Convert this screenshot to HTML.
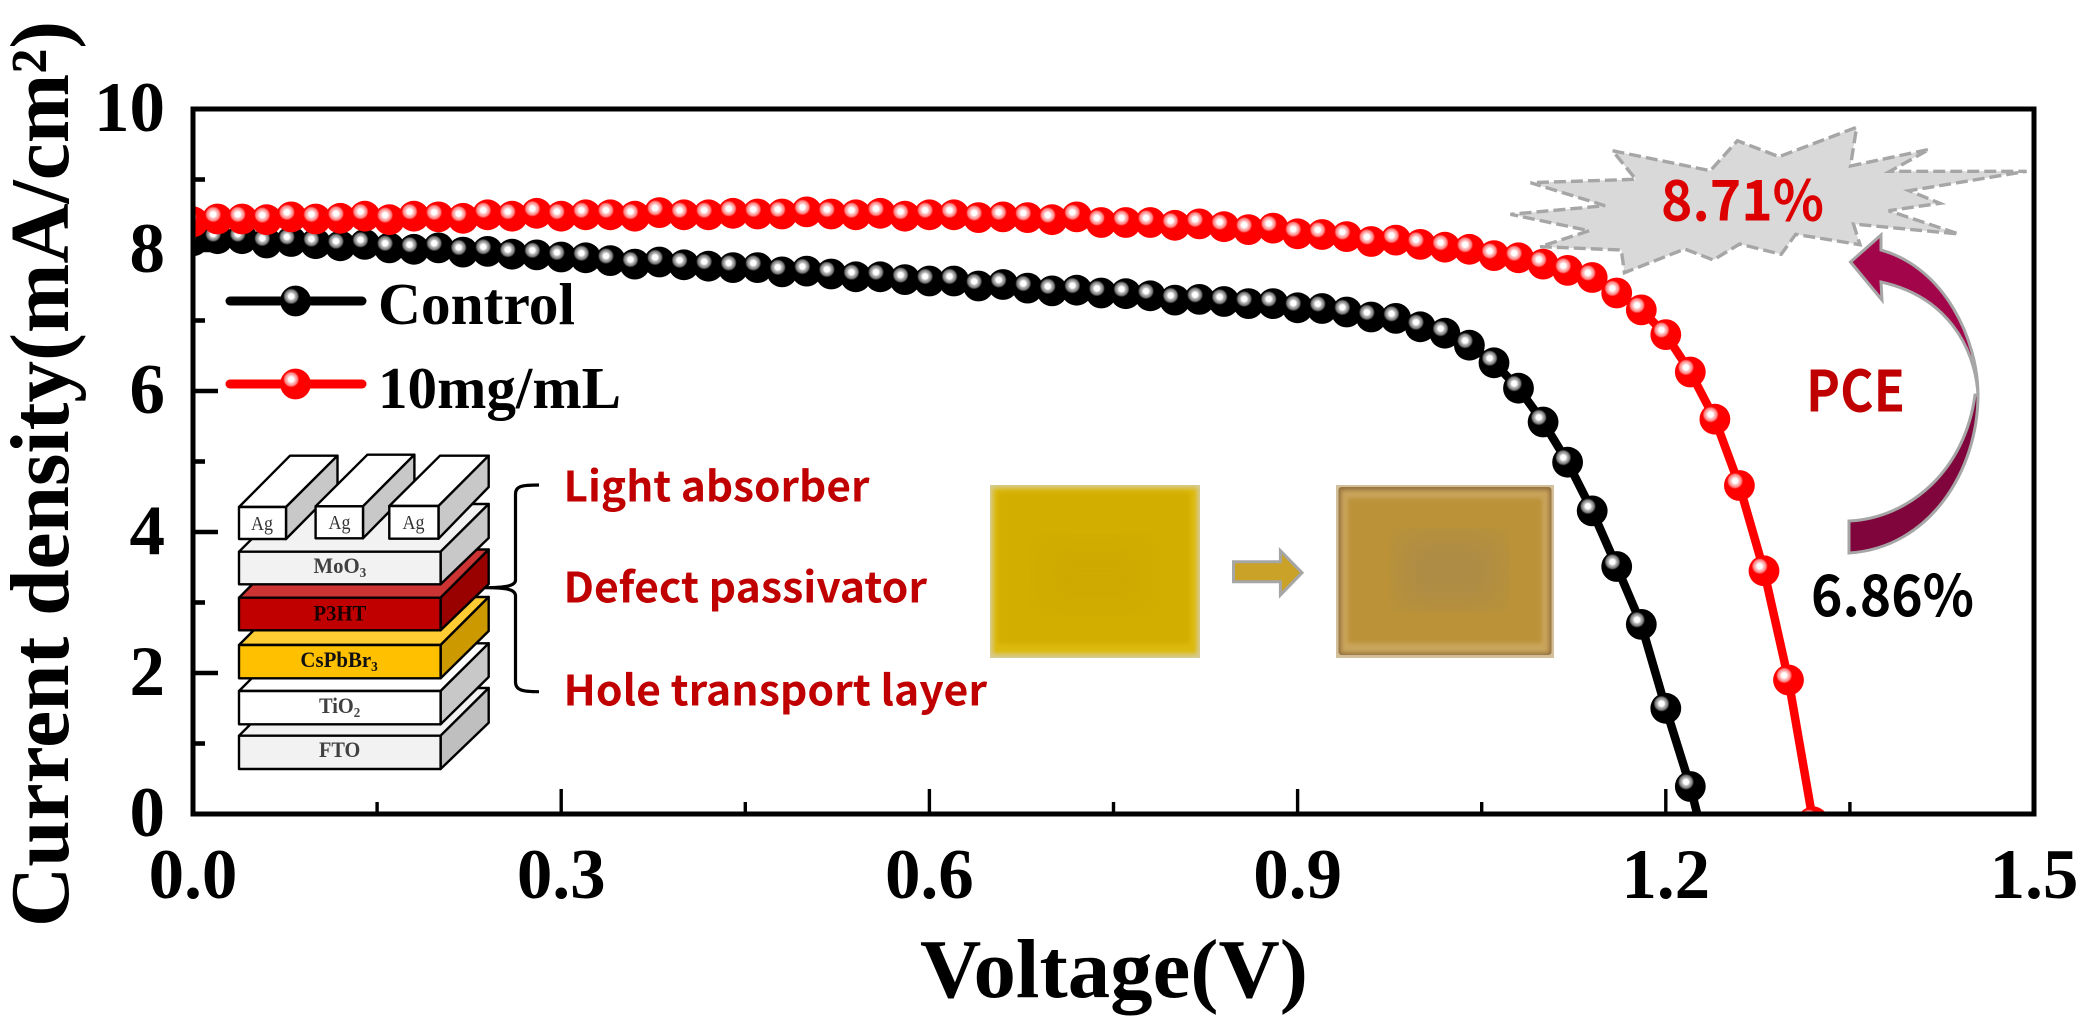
<!DOCTYPE html>
<html lang="en">
<head>
<meta charset="utf-8">
<title>J-V curves</title>
<style>
html,body{margin:0;padding:0;background:#fff;width:2087px;height:1031px;overflow:hidden}
svg{display:block}
.serif{font-family:"Liberation Serif","Times New Roman",serif;font-weight:700}
.cjk{font-family:"Noto Sans CJK SC","Liberation Sans",sans-serif;font-weight:700}
</style>
</head>
<body>
<svg id="chart" xmlns="http://www.w3.org/2000/svg" width="2087" height="1031" viewBox="0 0 2087 1031">
<defs>
<radialGradient id="ballBlack" cx="0.36" cy="0.35" r="0.26">
<stop offset="0" stop-color="#fff"/><stop offset="0.32" stop-color="#fff"/><stop offset="0.5" stop-color="#bbb"/><stop offset="0.8" stop-color="#777"/><stop offset="1" stop-color="#000"/>
</radialGradient>
<radialGradient id="ballRed" cx="0.36" cy="0.35" r="0.26">
<stop offset="0" stop-color="#fff"/><stop offset="0.32" stop-color="#fff"/><stop offset="0.5" stop-color="#ffc4c4"/><stop offset="0.8" stop-color="#ff8080"/><stop offset="1" stop-color="#f00"/>
</radialGradient>
<clipPath id="plotClip"><rect x="193" y="109" width="1841" height="705"/></clipPath>
<filter id="soft" x="-5%" y="-5%" width="110%" height="110%"><feGaussianBlur stdDeviation="2.2"/></filter>
<filter id="softer" x="-10%" y="-10%" width="120%" height="120%"><feGaussianBlur stdDeviation="14"/></filter>
<clipPath id="beforeClip"><rect x="990" y="485" width="210" height="173"/></clipPath>
<clipPath id="afterClip"><rect x="1336" y="485" width="218" height="173"/></clipPath>
</defs>

<!-- Device stack inset -->
<g stroke="#000" stroke-width="2.4" stroke-linejoin="round">
<g>
<polygon points="239,735.7 287,688 488.7,688 440.6,735.7" fill="#f2f2f2"/><polygon points="440.6,735.7 488.7,688 488.7,722.7 440.6,769" fill="#bfbfbf"/><rect x="239" y="735.7" width="201.6" height="33.3" fill="#f2f2f2"/>
</g>
<g>
<polygon points="239,691 287,643.3 488.7,643.3 440.6,691" fill="#fff"/><polygon points="440.6,691 488.7,643.3 488.7,677 440.6,724.3" fill="#c8c8c8"/><rect x="239" y="691" width="201.6" height="33.3" fill="#fff"/>
</g>
<g>
<polygon points="239,645 287,597 488.7,597 440.6,645" fill="#ffcc33"/><polygon points="440.6,645 488.7,597 488.7,631 440.6,678.3" fill="#cc9900"/><rect x="239" y="645" width="201.6" height="33.3" fill="#ffc000"/>
</g>
<g>
<polygon points="239,597.7 287,549.5 488.7,549.5 440.6,597.7" fill="#cc3333"/><polygon points="440.6,597.7 488.7,549.5 488.7,584 440.6,630.3" fill="#990000"/><rect x="239" y="597.7" width="201.6" height="32.6" fill="#c00000"/>
</g>
<g>
<polygon points="239,551.7 287,504 488.7,504 440.6,551.7" fill="#f2f2f2"/><polygon points="440.6,551.7 488.7,504 488.7,538 440.6,584.3" fill="#c8c8c8"/><rect x="239" y="551.7" width="201.6" height="32.6" fill="#f2f2f2"/>
</g>
<g>
<polygon points="239,507 290,455.7 337.5,455.7 286,507" fill="#fff"/><polygon points="286,507 337.5,455.7 337.5,487 286,539" fill="#c8c8c8"/><rect x="239" y="507" width="47" height="32" fill="#fff"/>
</g>
<g>
<polygon points="315.6,506.3 367.4,454.7 414.4,454.7 363,506.3" fill="#fff"/><polygon points="363,506.3 414.4,454.7 414.4,486 363,538.3" fill="#c8c8c8"/><rect x="315.6" y="506.3" width="47.4" height="32" fill="#fff"/>
</g>
<g>
<polygon points="389.3,506 440,455.7 488.7,455.7 438.5,506" fill="#fff"/><polygon points="438.5,506 488.7,455.7 488.7,487 438.5,538.7" fill="#c8c8c8"/><rect x="389.3" y="506" width="49.2" height="32.7" fill="#fff"/>
</g>
</g>
<g class="serif" font-size="22">
<text x="251" y="530" font-size="20" font-weight="400" fill="#333" textLength="22" lengthAdjust="spacingAndGlyphs">Ag</text>
<text x="328.5" y="529" font-size="20" font-weight="400" fill="#333" textLength="22" lengthAdjust="spacingAndGlyphs">Ag</text>
<text x="402.5" y="529" font-size="20" font-weight="400" fill="#333" textLength="22" lengthAdjust="spacingAndGlyphs">Ag</text>
<text x="313.5" y="573" fill="#404040" textLength="52.8" lengthAdjust="spacingAndGlyphs">MoO<tspan font-size="14" dy="4">3</tspan></text>
<text x="313.5" y="620.7" fill="#1a0000" textLength="52.8" lengthAdjust="spacingAndGlyphs">P3HT</text>
<text x="300.4" y="667" fill="#111" textLength="77.4" lengthAdjust="spacingAndGlyphs">CsPbBr<tspan font-size="14" dy="4">3</tspan></text>
<text x="319" y="713" fill="#404040" textLength="41.3" lengthAdjust="spacingAndGlyphs">TiO<tspan font-size="14" dy="4">2</tspan></text>
<text x="319" y="757" fill="#404040" textLength="41.3" lengthAdjust="spacingAndGlyphs">FTO</text>
</g>
<path d="M539,485 C522,485 515.5,486 515.5,494 L515.5,580 C515.5,586 505,587.7 485,587.7 C505,587.7 515.5,589 515.5,596 L515.5,682 C515.5,690 522,691.7 539,691.7" fill="none" stroke="#000" stroke-width="3.2"/>
<g class="cjk" fill="#c00000" font-size="42">
<text x="563.5" y="501.7" textLength="306" lengthAdjust="spacingAndGlyphs">Light absorber</text>
<text x="563.5" y="602.7" textLength="363.5" lengthAdjust="spacingAndGlyphs">Defect passivator</text>
<text x="563.5" y="705.7" textLength="423.5" lengthAdjust="spacingAndGlyphs">Hole transport layer</text>
</g>

<!-- Film photos -->
<g clip-path="url(#beforeClip)">
<rect x="990" y="485" width="210" height="173" fill="#d6cb96"/>
<rect x="993" y="488" width="204" height="166" fill="#dcb90c" filter="url(#soft)"/>
<rect x="998" y="492" width="192" height="152" fill="#d2ae02" filter="url(#soft)"/>
<rect x="1040" y="540" width="110" height="70" fill="#ceaa04" filter="url(#softer)"/>
</g>
<polygon points="1233.5,561.7 1280.4,561.7 1280.4,550.7 1302,572.7 1280.4,595 1280.4,581.7 1233.5,581.7" fill="#c9a227" stroke="#a6a6a6" stroke-width="3"/>
<g clip-path="url(#afterClip)">
<rect x="1336" y="485" width="218" height="173" fill="#d2c09c"/>
<rect x="1338.5" y="487" width="213" height="168" rx="3" fill="#94703e"/>
<rect x="1341" y="490" width="208" height="163" fill="#c9a45c" filter="url(#soft)"/>
<rect x="1348" y="498" width="194" height="145" fill="#bb9239" filter="url(#soft)"/>
<rect x="1400" y="535" width="100" height="70" fill="#ad8c45" filter="url(#softer)"/>
</g>

<!-- Starburst and PCE arrow -->
<polygon points="1612.5,150.7 1710.3,170.7 1737.4,140.7 1779,156.7 1856.6,127.3 1850.5,166 1929.4,149.3 1890,171.3 2026.6,171.3 1909.2,190.7 1939.9,203.3 1888.6,210.7 1958.7,234 1853.5,224 1860,244.7 1795.7,234.3 1781.2,254.3 1739.6,244 1713.3,260 1684.8,249 1624.4,272.7 1621.3,250 1540.2,246.7 1589.3,230.7 1510.4,214.3 1605,205.7 1530.6,182.7 1635.8,179.3" fill="#d9d9d9" stroke="#a6a6a6" stroke-width="3.4" stroke-dasharray="12 5"/>
<text class="cjk" x="1661" y="220.7" font-size="56" fill="#dc0000" textLength="163" lengthAdjust="spacingAndGlyphs">8.71%</text>
<path d="M1978,395 C1978,470 1930,548 1849,553 L1849,521 C1910,518 1965,470 1975,395 Z" fill="#80053c" stroke="#a6a6a6" stroke-width="3"/>
<path d="M1850.5,262 L1881,235 L1881,250 C1945,268 1978,340 1978,395 C1975,345 1945,296 1881,282 L1882,300 Z" fill="#a2054a" stroke="#a6a6a6" stroke-width="3"/>
<text class="cjk" x="1806" y="411.7" font-size="57" fill="#c00000" textLength="99" lengthAdjust="spacingAndGlyphs">PCE</text>
<text class="cjk" x="1811" y="616" font-size="57" fill="#000" textLength="163" lengthAdjust="spacingAndGlyphs">6.86%</text>

<g id="series" clip-path="url(#plotClip)"></g>
<g id="axes"></g>

<text class="serif" x="920" y="997" font-size="84" fill="#000" textLength="388" lengthAdjust="spacingAndGlyphs">Voltage(V)</text>
<text class="serif" transform="translate(68,927) rotate(-90)" font-size="84" fill="#000" textLength="906" lengthAdjust="spacingAndGlyphs">Current density(mA/cm²)</text>

<g id="legend"></g>
</svg>

<script>
const voltage = [0.00,0.02,0.04,0.06,0.08,0.10,0.12,0.14,0.16,0.18,0.20,0.22,0.24,0.26,0.28,0.30,0.32,0.34,0.36,0.38,0.40,0.42,0.44,0.46,0.48,0.50,0.52,0.54,0.56,0.58,0.60,0.62,0.64,0.66,0.68,0.70,0.72,0.74,0.76,0.78,0.80,0.82,0.84,0.86,0.88,0.90,0.92,0.94,0.96,0.98,1.00,1.02,1.04,1.06,1.08,1.10,1.12,1.14,1.16,1.18,1.20,1.22,1.24,1.26,1.28,1.30,1.32];
const controlDensity = [8.13,8.16,8.16,8.10,8.12,8.09,8.06,8.08,8.03,8.01,8.03,7.97,7.98,7.94,7.93,7.90,7.89,7.85,7.80,7.83,7.79,7.77,7.75,7.75,7.69,7.70,7.66,7.62,7.62,7.58,7.56,7.56,7.49,7.51,7.46,7.42,7.43,7.39,7.38,7.35,7.29,7.30,7.27,7.24,7.24,7.18,7.17,7.12,7.05,7.03,6.91,6.82,6.65,6.40,6.04,5.56,4.99,4.30,3.51,2.69,1.50,0.39,-1.00];
const treatedDensity = [8.40,8.44,8.44,8.43,8.47,8.44,8.45,8.48,8.43,8.48,8.47,8.45,8.50,8.48,8.52,8.48,8.50,8.50,8.48,8.53,8.50,8.50,8.52,8.51,8.51,8.54,8.51,8.50,8.52,8.48,8.50,8.50,8.46,8.47,8.46,8.43,8.47,8.39,8.39,8.39,8.35,8.37,8.33,8.29,8.31,8.23,8.22,8.19,8.12,8.14,8.08,8.04,8.01,7.92,7.89,7.80,7.71,7.61,7.39,7.15,6.80,6.27,5.60,4.66,3.45,1.90,-0.11];
const xMajorTicks = [0.0,0.3,0.6,0.9,1.2,1.5];
const xMinorTicks = [0.15,0.45,0.75,1.05,1.35];
const xTickLabels = ["0.0","0.3","0.6","0.9","1.2","1.5"];
const yMajorTicks = [0,2,4,6,8,10];
const yMinorTicks = [1,3,5,7,9];
const yTickLabels = ["0","2","4","6","8","10"];
const legendLabels = ["Control","10mg/mL"];

const NS = "http://www.w3.org/2000/svg";
const plot = {left:193,right:2034,top:109,bottom:814};
const xDomain = [0,1.5];
const yDomain = [0,10];
function xScale(v){return plot.left+(v-xDomain[0])/(xDomain[1]-xDomain[0])*(plot.right-plot.left);}
function yScale(v){return plot.bottom-(v-yDomain[0])/(yDomain[1]-yDomain[0])*(plot.bottom-plot.top);}
function make(tag,attrs,parent){
  const el=document.createElementNS(NS,tag);
  for(const k in attrs){el.setAttribute(k,attrs[k]);}
  parent.appendChild(el);
  return el;
}
const axes=document.getElementById("axes");
const series=document.getElementById("series");
const legend=document.getElementById("legend");

function drawSeries(xs,ys,color,grad,name){
  const g=make("g",{},series);
  
  
  const pts=ys.map((y,i)=>xScale(xs[i]).toFixed(1)+","+yScale(y).toFixed(1)).join(" ");
  const line=make("polyline",{points:pts,fill:"none",stroke:color,"stroke-width":8.5,"stroke-linejoin":"round"},g);
  
  
  ys.forEach((y,i)=>{
    const c=make("circle",{cx:xScale(xs[i]).toFixed(1),cy:yScale(y).toFixed(1),r:15.4,fill:"url(#"+grad+")"},g);
    
    
  });
}
drawSeries(voltage,controlDensity,"#000","ballBlack","control");
drawSeries(voltage,treatedDensity,"#f00","ballRed","treated-10mg");

const frame=make("rect",{x:plot.left,y:plot.top,width:plot.right-plot.left,height:plot.bottom-plot.top,fill:"none",stroke:"#000","stroke-width":5},axes);



xMajorTicks.forEach((v,i)=>{
  const t=make("line",{x1:xScale(v),x2:xScale(v),y1:plot.bottom,y2:plot.bottom-25,stroke:"#000","stroke-width":3.4},axes);
  
  
  const l=make("text",{x:xScale(v),y:898,"text-anchor":"middle","font-size":71,fill:"#000",class:"serif"},axes);
  
  
  l.textContent=xTickLabels[i];
});
xMinorTicks.forEach(v=>{
  const t=make("line",{x1:xScale(v),x2:xScale(v),y1:plot.bottom,y2:plot.bottom-12,stroke:"#000","stroke-width":3.4},axes);
  
  
});
yMajorTicks.forEach((v,i)=>{
  const t=make("line",{x1:plot.left,x2:plot.left+25,y1:yScale(v),y2:yScale(v),stroke:"#000","stroke-width":4.6},axes);
  
  
  const l=make("text",{x:165,y:yScale(v)+22,"text-anchor":"end","font-size":71,fill:"#000",class:"serif"},axes);
  
  
  l.textContent=yTickLabels[i];
});
yMinorTicks.forEach(v=>{
  const t=make("line",{x1:plot.left,x2:plot.left+12,y1:yScale(v),y2:yScale(v),stroke:"#000","stroke-width":4.6},axes);
  
  
});

function drawLegend(label,y,baseline,color,grad,name,width){
  const g=make("g",{},legend);
  
  
  const ln=make("line",{x1:230,x2:362,y1:y,y2:y,stroke:color,"stroke-width":9,"stroke-linecap":"round"},g);
  
  
  const c=make("circle",{cx:295.5,cy:y,r:15.4,fill:"url(#"+grad+")"},g);
  
  
  const t=make("text",{x:378,y:baseline,"font-size":59,fill:"#000",class:"serif",textLength:width,lengthAdjust:"spacingAndGlyphs"},g);
  
  
  t.textContent=label;
}
drawLegend(legendLabels[0],301,324,"#000","ballBlack","control",197);
drawLegend(legendLabels[1],384,408,"#f00","ballRed","treated",243);
</script>
</body>
</html>
